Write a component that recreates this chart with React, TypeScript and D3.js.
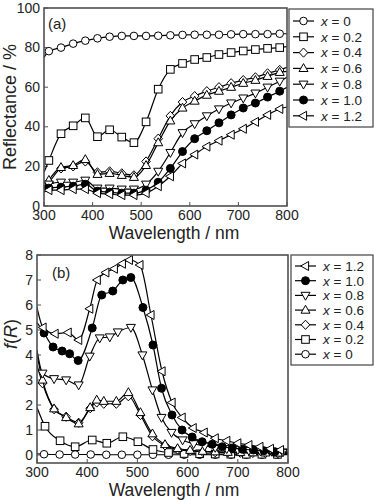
import React from 'react';
import * as d3 from 'd3';

// ---------- shared ----------
const seriesLabels = ['0', '0.2', '0.4', '0.6', '0.8', '1.0', '1.2'];
const markerTypes = ['circle', 'square', 'diamond', 'triUp', 'triDown', 'dot', 'triLeft'];
const xTicks = [300, 400, 500, 600, 700, 800];
const yTicksA = [0, 20, 40, 60, 80, 100];
const yTicksB = [0, 1, 2, 3, 4, 5, 6, 7, 8];

// ---------- panel (a): reflectance / % ----------
const wlA = [300, 310, 335, 360, 385, 410, 435, 460, 485, 510, 535, 560, 585, 610, 635, 660, 685, 710, 735, 760, 785, 800];
const reflX00 = [75, 78.2, 80, 82, 83.5, 84.7, 85.5, 85.9, 85.9, 85.9, 86, 86.2, 86.4, 86.5, 86.5, 86.5, 86.7, 86.8, 86.8, 86.8, 87, 87];
const reflX02 = [17, 23, 36.5, 40.5, 44.5, 35, 38.5, 34.8, 32, 42.5, 59, 69, 72, 74, 75, 76.5, 77.5, 78.3, 79, 79.6, 80, 80.5];
const reflX04 = [10, 12, 19, 20, 22.5, 17, 17.5, 16.5, 15.5, 22.5, 34, 45.5, 52.5, 55.5, 58, 60, 62, 63.6, 65, 67, 68.7, 70];
const reflX06 = [9, 13, 19.5, 20.5, 23.5, 16, 16.5, 15.5, 14.5, 20.5, 32, 43, 49.5, 53, 56, 58, 60, 62, 63.5, 65.5, 67.5, 68];
const reflX08 = [8, 11, 12, 12, 13, 9, 9, 8.5, 8.5, 11, 17.5, 27, 37, 41.5, 45.5, 49, 52, 54.5, 57, 60, 63, 65];
const reflX10 = [7, 9, 9.5, 10, 11, 7.5, 7, 6.5, 6.5, 8, 12, 19, 27.5, 34, 38, 42, 46, 49.5, 52, 55, 58, 60];
const reflX12 = [7, 8, 8, 8.5, 8.5, 6.5, 6, 5.5, 5.5, 6.5, 10, 15, 21.5, 26, 30, 33, 36, 39, 42.5, 46, 49, 50];
const reflSeries = [reflX00, reflX02, reflX04, reflX06, reflX08, reflX10, reflX12];

// ---------- panel (b): f(R) ----------
const wlB00 = [300, 314, 345, 376, 407, 438, 469, 500, 531, 562, 593, 624, 655, 686, 717, 748, 779, 800];
const frX00 = [0.05, 0.03, 0.02, 0.02, 0.02, 0.01, 0.01, 0.01, 0.01, 0.01, 0.01, 0.01, 0.01, 0.01, 0.01, 0.01, 0.01, 0.01];
const wlB02 = [300, 316, 346, 376, 410, 439, 471, 501, 531, 562, 593, 624, 655, 686, 717, 748, 779, 800];
const frX02 = [1.9, 1.15, 0.57, 0.33, 0.6, 0.47, 0.73, 0.53, 0.22, 0.1, 0.06, 0.05, 0.04, 0.035, 0.03, 0.03, 0.025, 0.025];
const wlB0406 = [300, 311, 334, 358, 383, 406, 419, 433, 458, 482, 506, 530, 555, 580, 605, 630, 655, 680, 705, 730, 755, 780, 800];
const frX04 = [3.6, 2.87, 1.83, 1.53, 1.29, 1.87, 2.1, 2.05, 2.05, 2.35, 1.6, 0.75, 0.38, 0.22, 0.16, 0.13, 0.11, 0.1, 0.09, 0.08, 0.075, 0.07, 0.065];
const frX06 = [4.0, 3.0, 1.85, 1.5, 1.25, 1.9, 2.2, 2.15, 2.15, 2.5, 1.7, 0.85, 0.42, 0.26, 0.19, 0.15, 0.13, 0.11, 0.1, 0.09, 0.085, 0.08, 0.075];
const wlB08 = [300, 311, 334, 358, 383, 405, 425, 445, 461, 487, 510, 530, 548, 568, 590, 612, 634, 655, 678, 700, 722, 745, 768, 790, 800];
const frX08 = [4.2, 3.27, 3.05, 3.0, 2.8, 3.95, 4.68, 4.72, 4.92, 5.1, 4.0, 2.6, 1.5, 0.9, 0.6, 0.45, 0.36, 0.3, 0.25, 0.21, 0.18, 0.16, 0.14, 0.12, 0.12];
const wlB10 = [300, 314, 332, 350, 365, 382, 410, 429, 451, 471, 487, 511, 531, 548, 569, 589, 609, 629, 649, 669, 689, 709, 731, 752, 774, 800];
const frX10 = [5.3, 4.88, 4.32, 4.16, 4.05, 3.78, 5.08, 6.4, 6.56, 7.0, 7.1, 5.9, 4.4, 2.67, 1.6, 1.0, 0.72, 0.53, 0.43, 0.33, 0.28, 0.23, 0.2, 0.17, 0.13, 0.12];
const wlB12 = [300, 312, 336, 362, 383, 405, 420, 437, 454, 470, 484, 505, 527, 549, 569, 589, 611, 633, 655, 678, 700, 722, 744, 765, 785, 800];
const frX12 = [5.9, 5.1, 4.85, 4.9, 4.6, 5.85, 7.0, 7.3, 7.45, 7.65, 7.8, 7.6, 5.6, 3.35, 2.1, 1.5, 1.08, 0.9, 0.67, 0.57, 0.47, 0.4, 0.33, 0.25, 0.2, 0.22];
const frWl = [wlB00, wlB02, wlB0406, wlB0406, wlB08, wlB10, wlB12];
const frSeries = [frX00, frX02, frX04, frX06, frX08, frX10, frX12];

const FONT = "'Liberation Sans', Arial, Helvetica, sans-serif";
const FRAME = '#505050';

function Marker({ type, x, y }: { type: string; x: number; y: number }) {
  const common = { stroke: '#000', strokeWidth: 1 } as any;
  if (type === 'circle') return <circle cx={x} cy={y} r={3.8} fill="#fff" {...common} />;
  if (type === 'dot') return <circle cx={x} cy={y} r={4} fill="#000" {...common} />;
  if (type === 'square') return <rect x={x - 3.8} y={y - 3.8} width={7.6} height={7.6} fill="#fff" {...common} />;
  let pts: number[][] = [];
  if (type === 'diamond') pts = [[x, y - 4.6], [x + 4.3, y], [x, y + 4.6], [x - 4.3, y]];
  if (type === 'triUp') pts = [[x, y - 4.8], [x + 4.5, y + 3.1], [x - 4.5, y + 3.1]];
  if (type === 'triDown') pts = [[x, y + 4.8], [x + 4.5, y - 3.1], [x - 4.5, y - 3.1]];
  if (type === 'triLeft') pts = [[x - 4.8, y], [x + 3.1, y - 4.5], [x + 3.1, y + 4.5]];
  return <polygon points={pts.map((p) => p.join(',')).join(' ')} fill="#fff" {...common} />;
}

type PanelProps = {
  left: number; right: number; top: number; bottom: number;
  yDomain: [number, number]; yTicks: number[];
  wls: number[][]; series: number[][];
  tag: string; tagX: number; tagY: number;
  yLabel: React.ReactNode; yLabelX: number; yLabelY: number;
  order: number[];
  legend: { x0: number; y0: number; x1: number; y1: number; firstY: number; step: number; order: number[] };
};

function Panel(p: PanelProps) {
  const x = d3.scaleLinear().domain([300, 800]).range([p.left, p.right]);
  const y = d3.scaleLinear().domain(p.yDomain).range([p.bottom, p.top]);
  const line = d3.line<[number, number]>().x((d) => x(d[0])).y((d) => y(d[1])).curve(d3.curveMonotoneX);
  const lg = p.legend;
  return (
    <g>
      {xTicks.map((t) => (
        <g key={'xt' + t}>
          <line x1={x(t)} x2={x(t)} y1={p.bottom} y2={p.bottom - 4} stroke={FRAME} strokeWidth={1} />
          <text x={x(t)} y={p.bottom + 14} textAnchor="middle" fontSize={14} fontFamily={FONT} fill="#222">{t}</text>
        </g>
      ))}
      {p.yTicks.map((t) => (
        <g key={'yt' + t}>
          <line x1={p.left} x2={p.left + 4} y1={y(t)} y2={y(t)} stroke={FRAME} strokeWidth={1} />
          <text x={p.left - 4} y={y(t) + 4.5} textAnchor="end" fontSize={14} fontFamily={FONT} fill="#222">{t}</text>
        </g>
      ))}
      <text x={174} y={p.bottom + 33} textAnchor="middle" fontSize={17.5} fontFamily={FONT} fill="#222">Wavelength / nm</text>
      <text transform={`translate(${p.yLabelX},${p.yLabelY}) rotate(-90)`} textAnchor="middle" fontSize={18} fontFamily={FONT} fill="#222">{p.yLabel}</text>
      <defs>
        <clipPath id={'clip' + p.tag}>
          <rect x={p.left} y={p.top} width={p.right - p.left} height={p.bottom - p.top} />
        </clipPath>
      </defs>
      <g clipPath={`url(#clip${p.tag})`}>
        {p.order.map((i) => {
          const pts = p.wls[i].map((w, k) => [w, p.series[i][k]] as [number, number]);
          return (
            <g key={'s' + i}>
              <path d={line(pts) || ''} fill="none" stroke="#000" strokeWidth={1.2} />
              {pts.filter((d) => d[0] !== 300 && d[0] !== 800).map((d, k) => (
                <Marker key={k} type={markerTypes[i]} x={x(d[0])} y={y(d[1])} />
              ))}
            </g>
          );
        })}
      </g>
      <rect x={p.left} y={p.top} width={p.right - p.left} height={p.bottom - p.top} fill="none" stroke={FRAME} strokeWidth={1.6} />
      <text x={p.tagX} y={p.tagY} fontSize={15} fontFamily={FONT} fill="#222">{`(${p.tag})`}</text>
      <rect x={lg.x0} y={lg.y0} width={lg.x1 - lg.x0} height={lg.y1 - lg.y0} fill="#fff" stroke={FRAME} strokeWidth={1.3} />
      {lg.order.map((i, r) => {
        const cy = lg.firstY + r * lg.step;
        return (
          <g key={'lg' + i}>
            <line x1={lg.x0 + 4} x2={lg.x0 + 25} y1={cy} y2={cy} stroke="#000" strokeWidth={1.2} />
            <Marker type={markerTypes[i]} x={lg.x0 + 14.5} y={cy} />
            <text x={lg.x0 + 32} y={cy + 4.8} fontSize={13.5} fontFamily={FONT} fill="#222">
              <tspan fontStyle="italic">x</tspan> = {seriesLabels[i]}
            </text>
          </g>
        );
      })}
    </g>
  );
}

export default function App() {
  return (
    <svg width={375} height={500} style={{ position: 'absolute', left: 0, top: 0, background: '#fff' }}>
      <rect x={0} y={0} width={375} height={500} fill="#fff" />
      <Panel
        left={44} right={287} top={8} bottom={206}
        yDomain={[0, 100]} yTicks={yTicksA}
        wls={reflSeries.map(() => wlA)} series={reflSeries}
        tag="a" tagX={48} tagY={29}
        yLabel="Reflectance / %" yLabelX={16} yLabelY={107}
        order={[0, 1, 2, 3, 4, 5, 6]}
        legend={{ x0: 289, y0: 9, x1: 373, y1: 127, firstY: 21, step: 15.8, order: [0, 1, 2, 3, 4, 5, 6] }}
      />
      <Panel
        left={37} right={288} top={255} bottom={463}
        yDomain={[-0.32, 8]} yTicks={yTicksB}
        wls={frWl} series={frSeries}
        tag="b" tagX={52} tagY={278}
        yLabel={<><tspan fontStyle="italic">f</tspan>(<tspan fontStyle="italic">R</tspan>)</>} yLabelX={17} yLabelY={334}
        order={[0, 1, 2, 3, 4, 5, 6]}
        legend={{ x0: 291, y0: 255, x1: 373, y1: 365, firstY: 266, step: 14.7, order: [6, 5, 4, 3, 2, 1, 0] }}
      />
    </svg>
  );
}
